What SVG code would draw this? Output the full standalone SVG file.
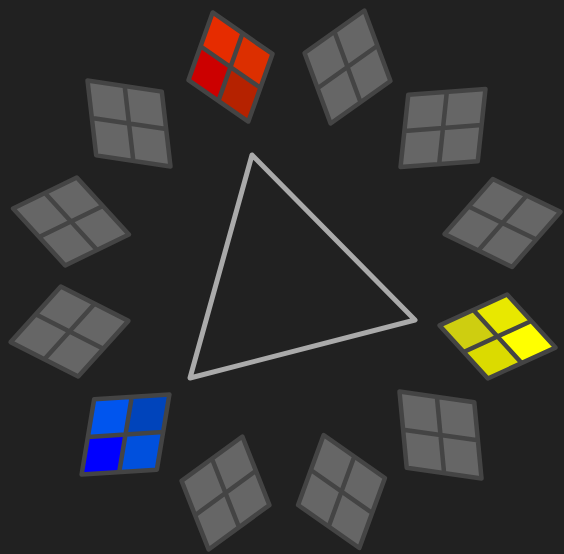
<svg xmlns="http://www.w3.org/2000/svg" width="564" height="554" viewBox="0 0 564 554">
<style>
.fr{fill:none;stroke:#444;stroke-width:4.5;stroke-linejoin:round;vector-effect:non-scaling-stroke}
.g{fill:#666}
.tri{fill:none;stroke:#aaa;stroke-width:5;stroke-linejoin:round}
</style>
<rect width="564" height="554" fill="#212121"/>
<g id="connectors">
<polygon class="tri" points="252,155 415,320 190,378"/>
</g>
<g id="tile-red" transform="matrix(59.85 41.51 -24.13 67.58 230.5 67)">
<rect x="-.5" y="-.5" width=".5" height=".5" fill="#e62c00"/>
<rect x="0" y="-.5" width=".5" height=".5" fill="#dc2f00"/>
<rect x="-.5" y="0" width=".5" height=".5" fill="#cc0000"/>
<rect x="0" y="0" width=".5" height=".5" fill="#b52200"/>
<path class="fr" d="M-.5-.5H.5V.5H-.5Z M0-.5V.5 M-.5 0H.5"/>
</g>
<g id="tile-2" transform="matrix(26.07 70.47 -59.85 42.48 347.5 67)">
<rect class="g" x="-.5" y="-.5" width="1" height="1"/>
<path class="fr" d="M-.5-.5H.5V.5H-.5Z M0-.5V.5 M-.5 0H.5"/>
</g>
<g id="tile-3" transform="matrix(77.23 -5.79 -7.72 72.4 443 128)">
<rect class="g" x="-.5" y="-.5" width="1" height="1"/>
<path class="fr" d="M-.5-.5H.5V.5H-.5Z M0-.5V.5 M-.5 0H.5"/>
</g>
<g id="tile-4" transform="matrix(67.58 32.82 -48.27 55.03 502.5 223)">
<rect class="g" x="-.5" y="-.5" width="1" height="1"/>
<path class="fr" d="M-.5-.5H.5V.5H-.5Z M0-.5V.5 M-.5 0H.5"/>
</g>
<g id="tile-yellow" transform="matrix(48.27 53.1 -67.58 30.89 497.5 336.5)">
<rect x="-.5" y="-.5" width=".5" height=".5" fill="#e8e800"/>
<rect x="0" y="-.5" width=".5" height=".5" fill="#ffff00"/>
<rect x="-.5" y="0" width=".5" height=".5" fill="#cece10"/>
<rect x="0" y="0" width=".5" height=".5" fill="#dbdb00"/>
<path class="fr" d="M-.5-.5H.5V.5H-.5Z M0-.5V.5 M-.5 0H.5"/>
</g>
<g id="tile-6" transform="matrix(74.82 10.62 7.24 76.27 440.5 435)">
<rect class="g" x="-.5" y="-.5" width="1" height="1"/>
<path class="fr" d="M-.5-.5H.5V.5H-.5Z M0-.5V.5 M-.5 0H.5"/>
</g>
<g id="tile-7" transform="matrix(61.3 42.96 -25.58 69.99 341.5 491.5)">
<rect class="g" x="-.5" y="-.5" width="1" height="1"/>
<path class="fr" d="M-.5-.5H.5V.5H-.5Z M0-.5V.5 M-.5 0H.5"/>
</g>
<g id="tile-8" transform="matrix(27.03 68.54 -60.82 44.41 225.5 493)">
<rect class="g" x="-.5" y="-.5" width="1" height="1"/>
<path class="fr" d="M-.5-.5H.5V.5H-.5Z M0-.5V.5 M-.5 0H.5"/>
</g>
<g id="tile-blue" transform="matrix(75.3 -4.83 -12.55 75.3 125.5 434.5)">
<rect x="-.5" y="-.5" width=".5" height=".5" fill="#0055ee"/>
<rect x="0" y="-.5" width=".5" height=".5" fill="#0044bb"/>
<rect x="-.5" y="0" width=".5" height=".5" fill="#0000ff"/>
<rect x="0" y="0" width=".5" height=".5" fill="#0050dd"/>
<path class="fr" d="M-.5-.5H.5V.5H-.5Z M0-.5V.5 M-.5 0H.5"/>
</g>
<g id="tile-10" transform="matrix(67.58 34.27 -50.2 55.51 69.5 331.5)">
<rect class="g" x="-.5" y="-.5" width="1" height="1"/>
<path class="fr" d="M-.5-.5H.5V.5H-.5Z M0-.5V.5 M-.5 0H.5"/>
</g>
<g id="tile-11" transform="matrix(52.13 56.96 -63.71 30.89 71 221.5)">
<rect class="g" x="-.5" y="-.5" width="1" height="1"/>
<path class="fr" d="M-.5-.5H.5V.5H-.5Z M0-.5V.5 M-.5 0H.5"/>
</g>
<g id="tile-12" transform="matrix(74.33 11.1 8.69 74.82 129 123.5)">
<rect class="g" x="-.5" y="-.5" width="1" height="1"/>
<path class="fr" d="M-.5-.5H.5V.5H-.5Z M0-.5V.5 M-.5 0H.5"/>
</g>
</svg>
